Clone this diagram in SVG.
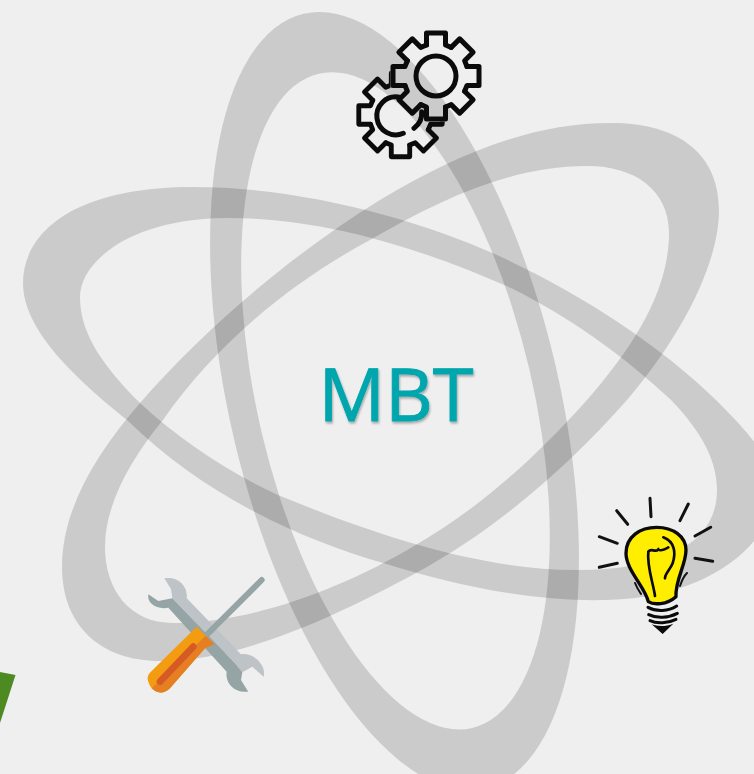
<svg xmlns="http://www.w3.org/2000/svg" xmlns:xlink="http://www.w3.org/1999/xlink" width="754" height="774" viewBox="0 0 754 774">
<style>
.orbit{fill:#000;fill-opacity:.15;fill-rule:evenodd}
.gearline{fill:none;stroke:#0b0b0b;stroke-width:5;stroke-linejoin:round;stroke-linecap:round}
.ray{fill:none;stroke:#111;stroke-width:3;stroke-linecap:round}
.label{font-family:"Open Sans","Liberation Sans",sans-serif;font-size:74px;fill:#00A6AD;stroke:#00A6AD;stroke-width:.9;text-anchor:middle}
</style>
<defs>
<filter id="sh" x="-10%" y="-10%" width="120%" height="130%"><feDropShadow dx="1" dy="2" stdDeviation="1.2" flood-color="#000" flood-opacity=".3"/></filter>
<g id="seg"><path d="M-9.5,-31V-43H9.5V-31L15.2,-28.6"/></g>
<g id="gear8">
<use xlink:href="#seg"/><use xlink:href="#seg" transform="rotate(45)"/><use xlink:href="#seg" transform="rotate(90)"/><use xlink:href="#seg" transform="rotate(135)"/><use xlink:href="#seg" transform="rotate(180)"/><use xlink:href="#seg" transform="rotate(225)"/><use xlink:href="#seg" transform="rotate(270)"/><use xlink:href="#seg" transform="rotate(315)"/>
</g>
<mask id="hideBig" maskUnits="userSpaceOnUse" x="0" y="0" width="754" height="774">
<rect width="754" height="774" fill="#fff"/>
<g transform="translate(436 76)" fill="#000" stroke="#000" stroke-width="5"><circle r="33"/><use xlink:href="#gear8"/></g>
</mask>
</defs>
<rect id="background" width="754" height="774" fill="#EFEFEF"/>
<path id="corner" d="M0,672L15.500,675L0,723Z" fill="#4E8A22"/>
<g id="orbits">
<path class="orbit" d="M-397.700,0A397.700,164.900 0 1 0 397.700,0A397.700,164.900 0 1 0 -397.700,0ZM-336,-1A336,137.500 0 1 0 336,-1A336,137.500 0 1 0 -336,-1Z" transform="translate(394.500 401) rotate(76.800)"/>
<path class="orbit" d="M719,210C719,265 680,338 627,400C565,470 495,530 416,573C335,617 240,661 160,661C100,661 62,625 62,567C62,510 95,455 140,403C205,328 295,252 380,200C455,155 530,123 611,123C680,123 719,155 719,210Z M669,233C669,290 635,345 587,400C535,458 480,508 414,546C340,590 250,623 173,623C130,623 105,590 105,547C105,505 130,460 163,420C215,345 290,283 370,240C440,200 510,166 587,166C635,166 669,190 669,233Z"/>
<path class="orbit" d="M23,283C23,235 70,187 193,187C300,187 415,218 497,255C580,293 660,345 716,400C745,429 775,460 775,490C775,535 720,597 607,600C530,602 455,585 383,563C295,538 200,492 127,420C75,378 23,330 23,283Z M80,297C80,262 130,219 225,218C325,217 425,250 511,288C570,317 625,357 671,400C695,425 717,455 717,490C717,540 670,570 577,570C480,570 375,535 278,495C228,472 180,440 140,403C105,368 80,335 80,297Z"/>
</g>
<g id="mbt"><text class="label" x="396" y="421" filter="url(#sh)">MBT</text></g>
<g id="gears">
<g mask="url(#hideBig)"><g class="gearline" transform="translate(400.500 115) scale(.97)"><use xlink:href="#gear8"/></g></g>
<g class="gearline" transform="translate(436 76)"><use xlink:href="#gear8"/><circle r="20"/></g>
<path class="gearline" d="M403.300,133.300A19,19 0 1 1 398.300,97"/>
<path class="gearline" d="M421.700,111.700A19,19 0 0 1 414,128.300"/>
</g>
<g id="bulb">
<g class="ray"><path d="M650,498.300L651,516.700"/><path d="M616.700,510.700L627.700,524.300"/><path d="M688.300,504L680,520.700"/><path d="M710.700,527.300L695,536"/><path d="M599.300,536.700L617.300,543.300"/><path d="M599.300,567.300L617.300,563.300"/><path d="M695,558.300L712.700,561.300"/><path d="M680,586C682,580 684,576 687,573" stroke-width="2"/><path d="M635,583C637,588 639,591 641,594" stroke-width="2"/></g>
<g transform="translate(590 490) scale(.3333)">
<path d="M175,335C165,290 108,240 108,190C108,140 150,112 200,112C250,112 288,140 288,180C288,225 255,270 258,320C230,345 190,345 175,335Z" fill="#FFEE00" stroke="#0a0a0a" stroke-width="10" stroke-linejoin="round"/>
<path d="M195,318C190,280 170,230 175,185C185,172 195,190 205,178C212,185 225,178 235,172" fill="none" stroke="#0a0a0a" stroke-width="8" stroke-linecap="round"/>
<path d="M220,142C255,155 258,190 248,220C240,240 225,250 225,265" fill="none" stroke="#0a0a0a" stroke-width="8" stroke-linecap="round"/>
<path d="M174,352C200,366 235,364 260,348M176,374C200,386 235,384 262,370M180,392C200,402 235,400 258,388" fill="none" stroke="#0a0a0a" stroke-width="9" stroke-linecap="round"/>
<path d="M185,403C205,411 230,409 250,401L218,432Z" fill="#0a0a0a"/>
</g>
</g>
<g id="tools" transform="translate(135 565) scale(.3333)">
<path d="M88,40C125,32 160,60 155,100L318,268C355,262 395,300 386,335L352,305L322,322L300,295L112,100L108,72Z" fill="#BDC3C7"/>
<path d="M40,88L70,108L112,100L300,295L322,322L318,345L340,380C300,385 270,355 275,320L100,128C65,135 35,115 40,88Z" fill="#95A5A6"/>
<path d="M380,45L215,210" stroke="#95A5A6" stroke-width="18" stroke-linecap="round" fill="none"/>
<path d="M185,185L238,238L210,250L105,370C85,390 50,385 40,350C35,335 40,328 50,318L165,205Z" fill="#F39C12"/>
<path d="M212,212L238,238L210,250L105,370C85,390 65,385 50,370Z" fill="#E67E22"/>
<path d="M75,350L175,245" stroke="#D65A24" stroke-width="20" stroke-linecap="round" fill="none"/>
</g>
</svg>
